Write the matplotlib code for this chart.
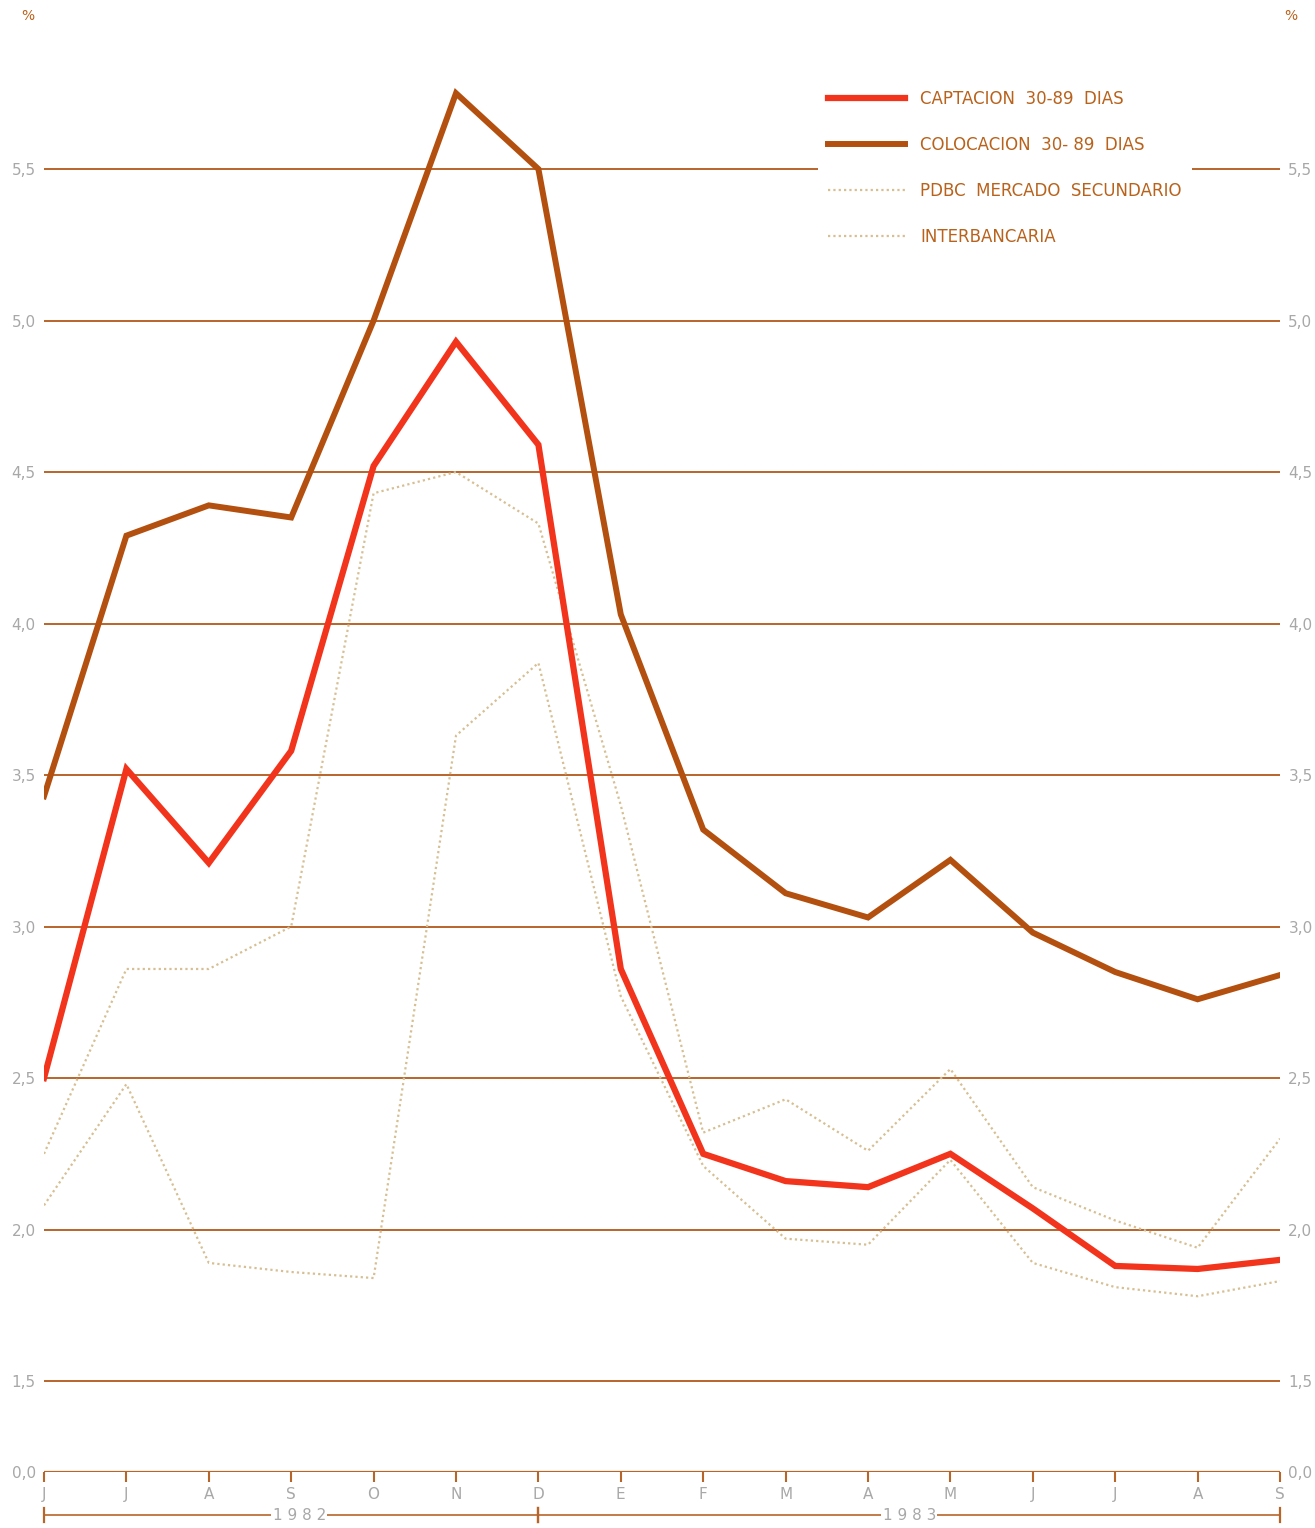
import matplotlib
matplotlib.use("Agg")
import matplotlib.pyplot as plt
import matplotlib.transforms as mtransforms

# months Jun 1982 - Sep 1983
months = ["J", "J", "A", "S", "O", "N", "D", "E", "F", "M", "A", "M", "J", "J", "A", "S"]
captacion = [2.50, 3.52, 3.21, 3.58, 4.52, 4.93, 4.59, 2.86, 2.25, 2.16, 2.14, 2.25, 2.07, 1.88, 1.87, 1.90]
colocacion = [3.43, 4.29, 4.39, 4.35, 5.00, 5.75, 5.50, 4.03, 3.32, 3.11, 3.03, 3.22, 2.98, 2.85, 2.76, 2.84]
pdbc = [2.25, 2.86, 2.86, 3.00, 4.43, 4.50, 4.33, 3.40, 2.32, 2.43, 2.26, 2.53, 2.14, 2.03, 1.94, 2.30]
interbancaria = [2.08, 2.48, 1.89, 1.86, 1.84, 3.63, 3.87, 2.77, 2.21, 1.97, 1.95, 2.23, 1.89, 1.81, 1.78, 1.83]
grid_vals = [1.5, 2.0, 2.5, 3.0, 3.5, 4.0, 4.5, 5.0, 5.5]
grid_labels = ["1,5", "2,0", "2,5", "3,0", "3,5", "4,0", "4,5", "5,0", "5,5"]
# label, bracket start, bracket end, text centre (month index)
years = [("1 9 8 2", 0, 6, 3.1), ("1 9 8 3", 6, 15, 10.5)]

RED = "#f2341c"
BROWN = "#b4500f"
GRIDC = "#b8652a"
TAN = "#d6bf92"
GREY = "#a8a8a8"
TXT = "#b8621c"

W, H = 1315, 1528
fig = plt.figure(figsize=(W / 100, H / 100), dpi=100)
fig.patch.set_facecolor("white")

x0, x1 = 44, 1280
ybot, ytop = 1472, 17.5
ax = fig.add_axes([x0 / W, 1 - ybot / H, (x1 - x0) / W, (ybot - ytop) / H])
ax.set_xlim(0, len(months) - 1)
ax.set_ylim(1.2, 6.0)
for s in ax.spines.values():
    s.set_visible(False)

xs = list(range(len(months)))

# grid lines
for v in grid_vals:
    ax.axhline(v, color=GRIDC, lw=1.4, zorder=1)
ax.axhline(1.2, color=GRIDC, lw=1.6, zorder=1)

ax.plot(xs, interbancaria, color=TAN, lw=1.6, ls=(0, (1, 1.4)), zorder=2, label="INTERBANCARIA")
ax.plot(xs, pdbc, color=TAN, lw=1.6, ls=(0, (1, 1.4)), zorder=2, label="PDBC  MERCADO  SECUNDARIO")
ax.plot(xs, colocacion, color=BROWN, lw=4.3, zorder=3, solid_joinstyle="miter", label="COLOCACION  30- 89  DIAS")
ax.plot(xs, captacion, color=RED, lw=4.5, zorder=4, solid_joinstyle="miter", label="CAPTACION  30-89  DIAS")

# y labels both sides
ax.set_yticks([1.2] + grid_vals)
ax.set_yticklabels(["0,0"] + grid_labels)
ax.tick_params(axis="y", length=0, labelsize=11, labelcolor=GREY, pad=6,
               left=True, right=True, labelleft=True, labelright=True)

# months
ax.set_xticks(xs)
ax.set_xticklabels(months)
ax.tick_params(axis="x", direction="out", length=7, width=1.5, color=GRIDC,
               labelsize=11, labelcolor=GREY, pad=4)

# year brackets
trans = mtransforms.blended_transform_factory(ax.transData, ax.transAxes)
yb = -0.0296
for lab, a, b, c in years:
    ax.plot([a, b], [yb, yb], color=GRIDC, lw=1.2, transform=trans, clip_on=False)
    for xv in (a, b):
        ax.plot([xv, xv], [yb - 0.005, yb + 0.005], color=GRIDC, lw=1.6,
                transform=trans, clip_on=False)
    ax.text(c, yb, lab, transform=trans, ha="center", va="center",
            fontsize=11, color=GREY, bbox=dict(facecolor="white", edgecolor="none", pad=1))

fig.text(28 / W, 1 - 16 / H, "%", fontsize=10, color=TXT, ha="center", va="center")
fig.text(1291 / W, 1 - 16 / H, "%", fontsize=10, color=TXT, ha="center", va="center")

h, l = ax.get_legend_handles_labels()
leg = ax.legend(h[::-1], l[::-1], loc="upper left", bbox_to_anchor=(818 / W, 1 - 80 / H),
                bbox_transform=fig.transFigure, frameon=True, facecolor="white",
                edgecolor="none", framealpha=1, fontsize=12, labelcolor=TXT,
                handlelength=4.6, handletextpad=0.95, labelspacing=1.68,
                borderpad=0.6, borderaxespad=0, fancybox=False)
leg.set_zorder(5)

fig.savefig("out.png", dpi=100, facecolor="white")
